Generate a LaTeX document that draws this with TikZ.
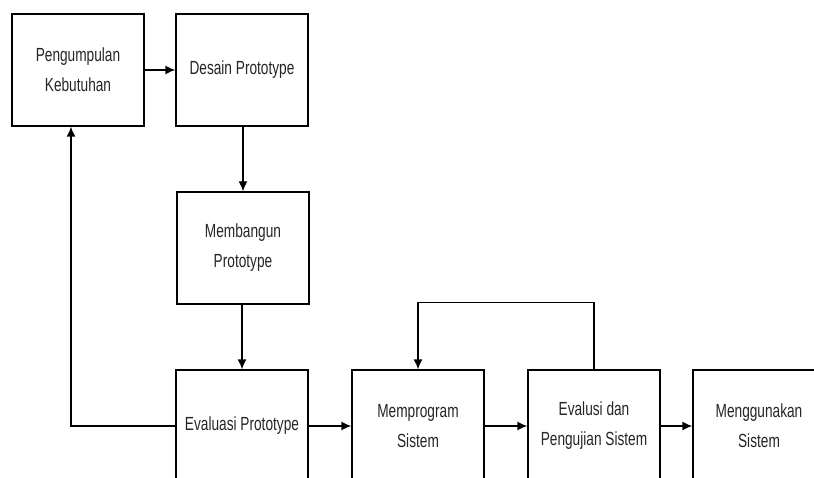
\documentclass[tikz,border=0pt]{standalone}
\usepackage{fontspec}
\setmainfont{Liberation Sans}[FakeStretch=0.72]
\usetikzlibrary{arrows.meta}
\begin{document}
\begin{tikzpicture}[x=1pt,y=-1pt,
  box/.style={draw=black,line width=1.4pt,rectangle,minimum width=132pt,minimum height=112pt,
    align=center,inner sep=0pt,font=\fontsize{19}{30}\selectfont,text=black!85},
  conn/.style={line width=1.4pt,-{Latex[length=10pt,width=9pt]}}]
\fill[white] (0,0) rectangle (814,478);
\clip (0,0) rectangle (814,478);
\node[box] (b1) at (78,70) {Pengumpulan\\Kebutuhan};
\node[box] (b2) at (242,70) {Desain Prototype};
\node[box] (b3) at (243,248) {Membangun\\Prototype};
\node[box] (b4) at (242,426) {Evaluasi Prototype};
\node[box] (b5) at (418,426) {Memprogram\\Sistem};
\node[box] (b6) at (594,426) {Evalusi dan\\Pengujian Sistem};
\node[box] (b7) at (759,426) {Menggunakan\\Sistem};
\coordinate (fb) at (71,0);
\draw[conn] (b1) -- (b2);
\draw[conn] (b2.south -| b3.north) -- (b3.north);
\draw[conn] (b3.south -| b4.north) -- (b4.north);
\draw[conn] (b4) -- (b5);
\draw[conn] (b5) -- (b6);
\draw[conn] (b6) -- (b7);
\draw[conn] (b4.west) -| (b1.south -| fb);
\draw[conn] (b6.north) -- ++(0,-67) -| (b5.north);
\end{tikzpicture}
\end{document}
